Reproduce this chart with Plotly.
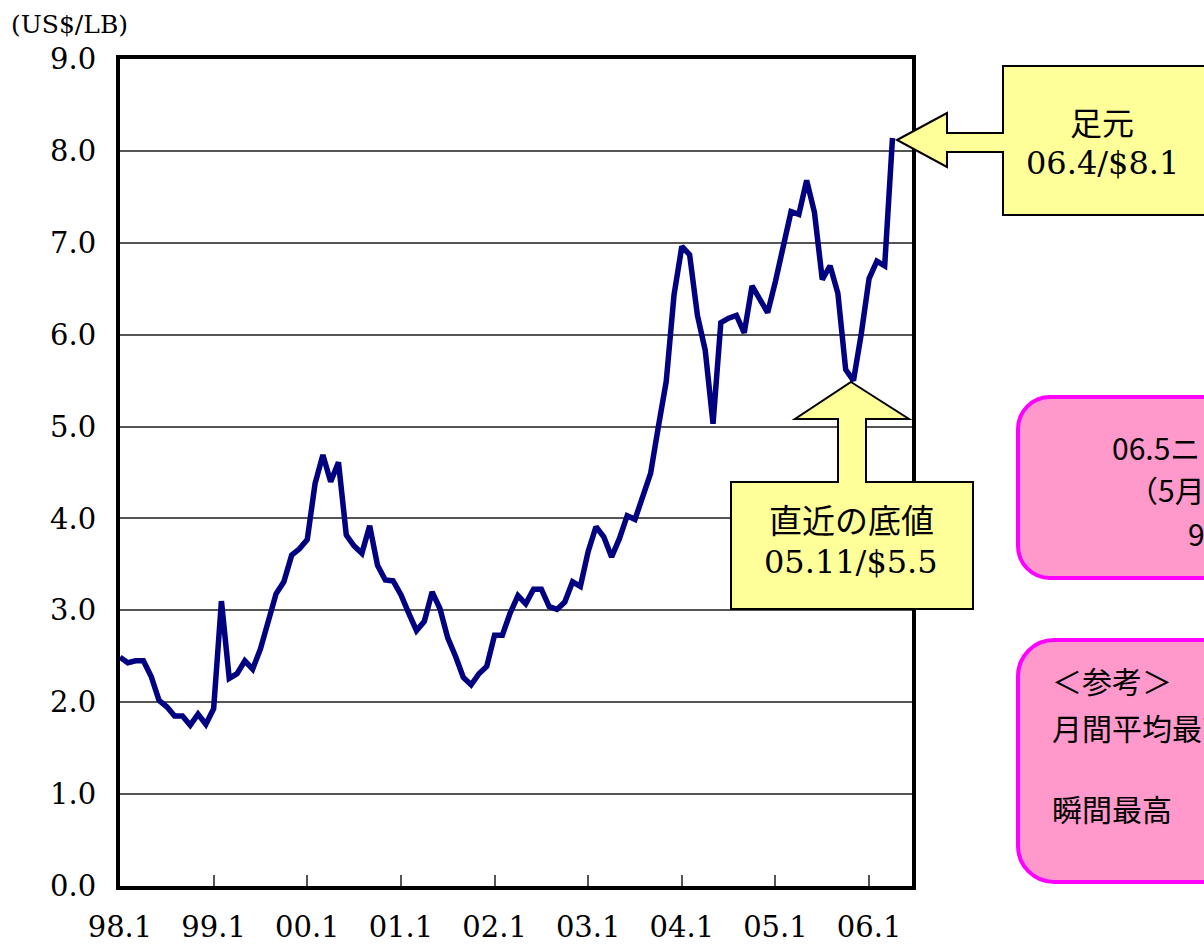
import plotly.graph_objects as go

# ---- data (monthly, 98.1 .. 06.4) ----
prices = [2.49, 2.43, 2.45, 2.45, 2.28, 2.02, 1.95, 1.85, 1.85, 1.75, 1.87, 1.76,
          1.93, 3.10, 2.26, 2.31, 2.45, 2.36, 2.58, 2.89, 3.18, 3.31, 3.60, 3.67,
          3.77, 4.38, 4.69, 4.40, 4.61, 3.82, 3.70, 3.62, 3.92, 3.49, 3.33, 3.32,
          3.17, 2.97, 2.78, 2.88, 3.20, 3.02, 2.70, 2.50, 2.27, 2.19, 2.31, 2.39,
          2.73, 2.73, 2.97, 3.16, 3.07, 3.23, 3.23, 3.04, 3.01, 3.09, 3.31, 3.26,
          3.64, 3.91, 3.80, 3.58, 3.78, 4.03, 3.99, 4.24, 4.49, 5.00, 5.49, 6.43,
          6.96, 6.87, 6.21, 5.83, 5.03, 6.13, 6.18, 6.21, 6.02, 6.53, 6.38, 6.24,
          6.58, 6.95, 7.34, 7.31, 7.68, 7.33, 6.60, 6.75, 6.45, 5.62, 5.50, 6.01,
          6.61, 6.80, 6.75, 8.14]
months = list(range(len(prices)))
tick_labels = ["98.1", "99.1", "00.1", "01.1", "02.1", "03.1", "04.1", "05.1", "06.1"]
tick_pos = [12 * k for k in range(len(tick_labels))]
y_ticks = [float(v) for v in range(10)]

SERIF = "DejaVu Serif, Noto Sans CJK JP"
GOTHIC = "Noto Sans CJK JP"

# plot area in pixels
PX0, PX1, PY0, PY1 = 120, 912, 59, 886


def px(x):
    return (x - PX0) / (PX1 - PX0)


def py(y):
    return (PY1 - y) / (PY1 - PY0)


def poly_path(pts):
    return "M " + " L ".join(f"{px(x):.5f},{py(y):.5f}" for x, y in pts) + " Z"


def rounded_rect(x0, y0, x1, y1, r):
    k = 0.5523 * r
    P = lambda x, y: f"{px(x):.5f},{py(y):.5f}"
    return (f"M {P(x0 + r, y0)} L {P(x1 - r, y0)} "
            f"C {P(x1 - r + k, y0)} {P(x1, y0 + r - k)} {P(x1, y0 + r)} "
            f"L {P(x1, y1 - r)} "
            f"C {P(x1, y1 - r + k)} {P(x1 - r + k, y1)} {P(x1 - r, y1)} "
            f"L {P(x0 + r, y1)} "
            f"C {P(x0 + r - k, y1)} {P(x0, y1 - r + k)} {P(x0, y1 - r)} "
            f"L {P(x0, y0 + r)} "
            f"C {P(x0, y0 + r - k)} {P(x0 + r - k, y0)} {P(x0 + r, y0)} Z")


fig = go.Figure()
fig.add_trace(go.Scatter(x=months, y=prices, mode="lines",
                         line=dict(color="#000080", width=5.5), hoverinfo="skip"))

shapes = []
# left-pointing callout (足元)
shapes.append(dict(type="path", xref="paper", yref="paper", layer="above",
                   path=poly_path([(897, 140), (947, 113), (947, 133), (1003, 133),
                                   (1003, 66), (1230, 66), (1230, 215), (1003, 215),
                                   (1003, 152), (947, 152), (947, 167)]),
                   fillcolor="#FFFF99", line=dict(color="black", width=2)))
# up-pointing callout (直近の底値)
shapes.append(dict(type="path", xref="paper", yref="paper", layer="above",
                   path=poly_path([(851, 382), (909, 419), (866, 419), (866, 482),
                                   (973, 482), (973, 609), (731, 609), (731, 482),
                                   (838, 482), (838, 419), (795, 419)]),
                   fillcolor="#FFFF99", line=dict(color="black", width=2)))
# pink rounded boxes
shapes.append(dict(type="path", xref="paper", yref="paper", layer="above",
                   path=rounded_rect(1018, 397, 1300, 578, 32),
                   fillcolor="#FF99CC", line=dict(color="#FF00FF", width=4)))
shapes.append(dict(type="path", xref="paper", yref="paper", layer="above",
                   path=rounded_rect(1018, 640, 1300, 882, 36),
                   fillcolor="#FF99CC", line=dict(color="#FF00FF", width=4)))

annotations = []


def txt(text, x, y, size, family, anchor="center", color="black"):
    annotations.append(dict(text=text, x=px(x), y=py(y), xref="paper", yref="paper",
                            xanchor=anchor, yanchor="middle", showarrow=False,
                            font=dict(family=family, size=size, color=color)))


txt("(US$/LB)", 69, 25, 25, SERIF)
txt("足元", 1102, 124, 32, SERIF)
txt("06.4/$8.1", 1102, 163, 32, SERIF)
txt("直近の底値", 851, 521, 33, SERIF)
txt("05.11/$5.5", 851, 562, 32, SERIF)
txt("06.5ニッケル最高値", 1110, 447, 30, GOTHIC, anchor="left")
txt("（5月12日）", 1126, 489, 30, GOTHIC, anchor="left")
txt("9.60ドル", 1186, 533, 30, GOTHIC, anchor="left")
txt("＜参考＞", 1050, 680, 30, GOTHIC, anchor="left")
txt("月間平均最高", 1050, 727, 30, GOTHIC, anchor="left")
txt("瞬間最高", 1050, 808, 30, GOTHIC, anchor="left")

fig.update_layout(
    width=1204, height=944,
    margin=dict(l=PX0, r=1204 - PX1, t=PY0, b=944 - PY1, pad=0, autoexpand=False),
    paper_bgcolor="white", plot_bgcolor="white",
    showlegend=False,
    shapes=shapes, annotations=annotations,
    xaxis=dict(range=[0, 101.5], tickmode="array", tickvals=tick_pos, ticktext=tick_labels,
               ticks="inside", ticklen=11, tickwidth=1.5, tickcolor="#555555",
               showgrid=False, zeroline=False, automargin=False,
               showline=True, linewidth=4, linecolor="black", mirror=True,
               tickfont=dict(family=SERIF, size=29, color="black"),
               ticklabelstandoff=12),
    yaxis=dict(range=[0, 9], tickmode="array", tickvals=y_ticks,
               ticktext=[f"{v:.1f}" for v in y_ticks],
               ticks="inside", ticklen=8, tickwidth=1.5, tickcolor="#555555",
               showgrid=True, gridcolor="#555555", gridwidth=1.5, zeroline=False,
               automargin=False,
               showline=True, linewidth=4, linecolor="black", mirror=True,
               tickfont=dict(family=SERIF, size=29, color="black"),
               ticklabelstandoff=14),
)

fig.write_html("out.html", config={"displayModeBar": False},
               post_script="document.body.style.margin='0';")
